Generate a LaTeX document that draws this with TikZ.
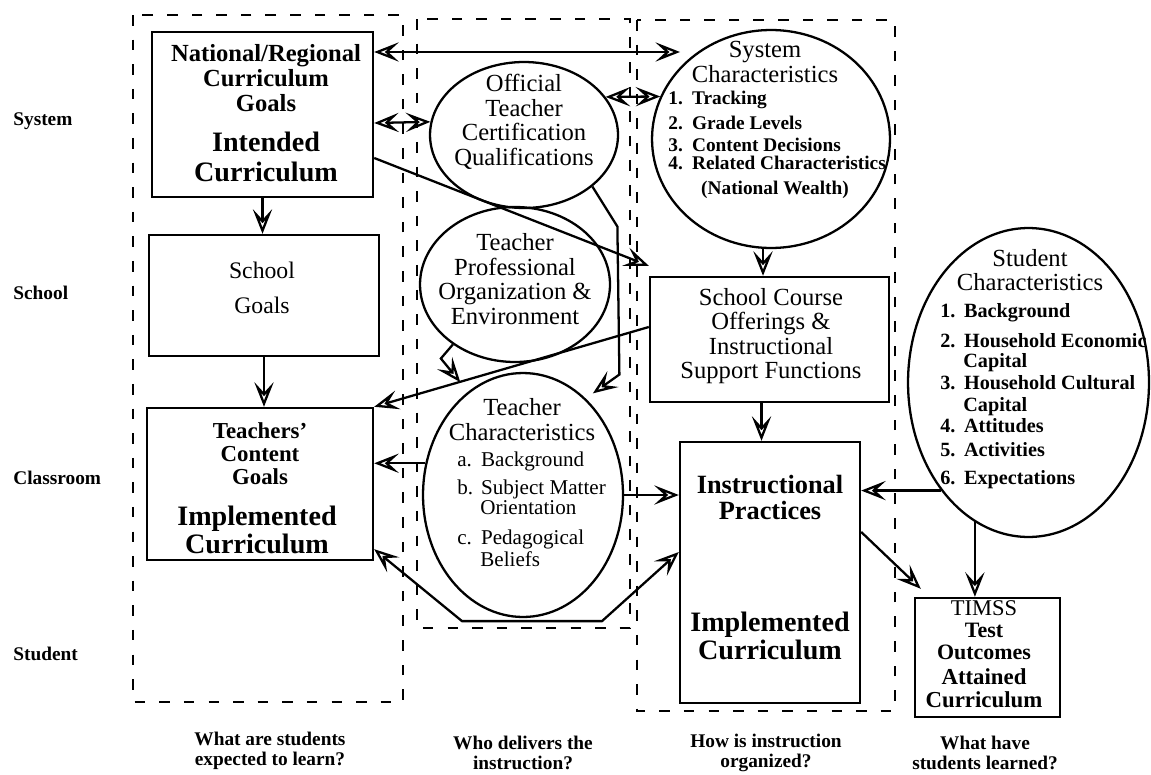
\documentclass[tikz,border=0pt]{standalone}
\usepackage{fontspec}
\setmainfont{Liberation Serif}
\usetikzlibrary{shapes.geometric,arrows.meta}

\newcommand{\itm}[2]{\makebox[13.5pt][l]{#1}#2}

\tikzset{
  head/.tip={Stealth[length=14pt,width=11pt,inset=6pt,open,line width=1.3pt]},
  lane/.style={line width=1.5pt, dash pattern=on 6pt off 8pt},
  box/.style={draw, line width=1.4pt, inner sep=0pt},
  oval/.style={draw, ellipse, line width=1.3pt, inner sep=0pt},
  link/.style={line width=1.3pt, -head},
  twoway/.style={line width=1.3pt, head-head},
  tier/.style={anchor=west, inner sep=0pt, font=\bfseries\fontsize{11}{11}\selectfont},
  query/.style={align=center, inner sep=0pt, font=\bfseries\fontsize{11}{11.4}\selectfont},
  body/.style={align=center, inner sep=0pt, font=\fontsize{14}{14}\selectfont},
  heavy/.style={align=center, inner sep=0pt, font=\bfseries\fontsize{16}{17}\selectfont},
  entry/.style={anchor=west, inner sep=0pt, text height=8pt, text depth=2.5pt},
}

\begin{document}
\begin{tikzpicture}[x=0.02cm,y=-0.02cm]
    \useasboundingbox (0,0) rectangle (1151,774);

    % the three dashed columns
    \draw[lane] (133,15) rectangle (403,702);
    \draw[lane] (417,19) rectangle (630,628);
    \draw[lane] (637,20) rectangle (895,711);

    % levels on the left, questions along the bottom
    \foreach \nm / \yy / \txt in {lsys/121/System, lsch/293/School, lcls/478/Classroom, lstu/654/Student}
    {
        \node[tier] (\nm) at (13,\yy) {\txt};
    }
    \node[query] (q1) at (270,750.5) {What are students\\expected to learn?};
    \node[query] (q2) at (523,752.5) {Who delivers the\\instruction?};
    \node[query] (q3) at (766,753) {How is instruction\\organized?};
    \node[query] (q4) at (985,753) {What have\\students learned?};

    % boxes
    \node[box, minimum width=4.42cm, minimum height=3.3cm] (ncg) at (262.5,114.5) {};
    \node[box, minimum width=4.6cm, minimum height=2.42cm] (sg) at (264,295.5) {};
    \node[box, minimum width=4.52cm, minimum height=3.04cm] (tcg) at (260,484) {};
    \node[box, minimum width=4.78cm, minimum height=2.5cm] (sco) at (769.5,339.5) {};
    \node[box, minimum width=3.6cm, minimum height=5.22cm] (ip) at (770,572.5) {};
    \node[box, minimum width=2.9cm, minimum height=2.38cm] (tim) at (987.5,657.5) {};

    % ovals
    \node[oval, minimum width=3.76cm, minimum height=2.92cm] (otc) at (524,135) {};
    \node[oval, minimum width=3.8cm, minimum height=3.1cm] (tpo) at (515,284.5) {};
    \node[oval, minimum width=4cm, minimum height=4.88cm] (tch) at (523,495) {};
    \node[oval, minimum width=4.76cm, minimum height=4.36cm] (sys) at (771,139) {};
    \node[oval, minimum width=4.82cm, minimum height=6.18cm] (stu) at (1028.5,382.5) {};

    % texts in the boxes
    \node[body, font=\bfseries\fontsize{14}{14}\selectfont] (ncg-t) at (266,78) {National/Regional\\Curriculum\\Goals};
    \node[heavy] (ncg-b) at (266,157) {Intended\\Curriculum};
    \node[body, font=\fontsize{13.5}{20}\selectfont] (sg-t) at (262,287.5) {School\\Goals};
    \node[body, font=\bfseries\fontsize{13}{13}\selectfont] (tcg-t) at (260,454) {Teachers'\\Content\\Goals};
    \node[heavy, font=\bfseries\fontsize{16}{16}\selectfont] (tcg-b) at (257,530) {Implemented\\Curriculum};
    \node[body] (sco-t) at (771,336) {School Course\\Offerings \&\\Instructional\\Support Functions};
    \node[heavy, font=\bfseries\fontsize{15}{14.5}\selectfont] (ip-t) at (770,497.5) {Instructional\\Practices};
    \node[heavy, font=\bfseries\fontsize{16}{16}\selectfont] (ip-b) at (770,636) {Implemented\\Curriculum};
    \node[body, font=\fontsize{12.8}{12.8}\selectfont] (tim-a) at (984,608) {TIMSS};
    \node[body, font=\bfseries\fontsize{12.5}{12.5}\selectfont] (tim-b) at (984,641) {Test\\Outcomes};
    \node[body, font=\bfseries\fontsize{13}{13}\selectfont] (tim-c) at (984,688.5) {Attained\\Curriculum};

    % texts in the ovals
    \node[body] (otc-t) at (524,122) {Official\\Teacher\\Certification\\Qualifications};
    \node[body] (tpo-t) at (515,279) {Teacher\\Professional\\Organization \&\\Environment};
    \node[body] (tch-t) at (522,419.5) {Teacher\\Characteristics};
    \node[body, font=\fontsize{14}{12}\selectfont] (sys-t) at (765,62) {System\\Characteristics};
    \node[body] (stu-t) at (1030,270) {Student\\Characteristics};

    \foreach \k / \yy / \txt in {1/100/Tracking, 2/125/Grade Levels, 3/147/Content Decisions, 4/165/Related Characteristics}
    {
        \node[entry, font=\bfseries\fontsize{11}{11}\selectfont] (sys-\k) at (668,\yy) {\itm{\k.}{\txt}};
    }
    \node[body, font=\bfseries\fontsize{11}{11}\selectfont] (sys-5) at (775,190) {(National Wealth)};

    \foreach \k / \nm / \yy / \txt in {1/a/462/Background, 2/b/490/Subject Matter, 3/c/540/Pedagogical}
    {
        \node[entry, font=\fontsize{12}{12}\selectfont] (tch-\k) at (457,\yy) {\itm{\nm.}{\txt}};
    }
    \node[entry, font=\fontsize{12}{12}\selectfont] (tch-4) at (480,510) {Orientation};
    \node[entry, font=\fontsize{12}{12}\selectfont] (tch-5) at (480,562) {Beliefs};

    \foreach \k / \yy / \txt in {1/313/Background, 2/343/Household Economic, 3/385/Household Cultural, 4/428/Attitudes, 5/452/Activities, 6/480/Expectations}
    {
        \node[entry, font=\bfseries\fontsize{11.5}{11.5}\selectfont] (stu-\k) at (940,\yy) {\itm{\k.}{\txt}};
    }
    \foreach \k / \yy in {7/363, 8/407}
    {
        \node[entry, font=\bfseries\fontsize{11.5}{11.5}\selectfont] (stu-\k) at (963,\yy) {Capital};
    }

    % arrows
    \coordinate (sysin) at (680,52);
    \draw[link] (ncg.south) -- (ncg.south |- sg.north);
    \draw[link] (sg.south) -- (sg.south |- tcg.north);
    \draw[twoway] (ncg.east |- sysin) -- (sysin);
    \draw[twoway] ([yshift=-0.17cm]ncg.east) -- (otc.172);
    \draw[twoway] (otc.25) -- (sys.159);
    \draw[link] ([yshift=-0.87cm]ncg.east) -- ([yshift=0.2cm]sco.north west);
    \draw[link, shorten >=5pt] (otc.-37) -- ++(25,40) -- ++(2,148) -- (tch.57);
    \draw[link, shorten >=7pt] (tpo.-136) -- ++(-12,14) -- (tch.118);
    \draw[link] ([yshift=0.25cm]sco.west) -- (tcg.north east);
    \draw[link] ([xshift=-0.16cm]sys.south) -- ([xshift=-0.16cm]sys.south |- sco.north);
    \draw[link] ([xshift=-0.16cm]sco.south) -- ([xshift=-0.16cm]sco.south |- ip.north);
    \draw[link] (tch.162) -- (tch.162 -| tcg.east);
    \draw[link] (tch.east) -- (tch.east -| ip.west);
    \draw[twoway] ([yshift=0.24cm]tcg.south east) -- ([xshift=-1.22cm,yshift=-0.06cm]tch.south)
        -- ([xshift=1.58cm,yshift=-0.06cm]tch.south) -- ([yshift=0.41cm]ip.west);
    \draw[link] (stu.231) -- (stu.231 -| ip.east);
    \draw[link] (stu.249) -- (stu.249 |- tim.north);
    \draw[link] ([yshift=0.81cm]ip.east) -- ([xshift=0.14cm,yshift=0.16cm]tim.north west);
\end{tikzpicture}
\end{document}
